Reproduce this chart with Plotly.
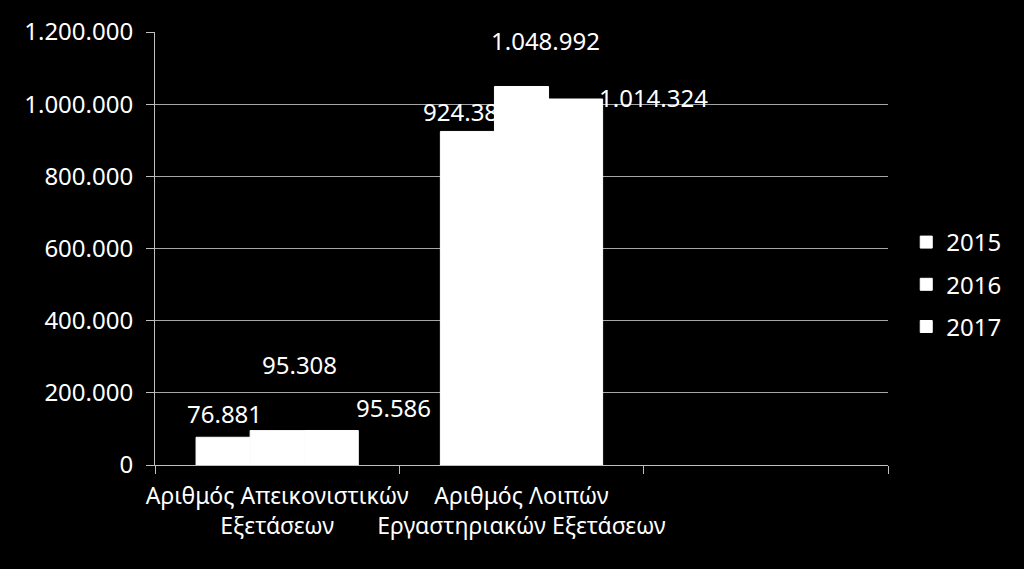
import plotly.graph_objects as go

# categories (third slot is empty in the original chart)
categories = ["Αριθμός Απεικονιστικών<br>Εξετάσεων",
              "Αριθμός Λοιπών<br>Εργαστηριακών Εξετάσεων",
              " "]
years = ["2015", "2016", "2017"]
values_2015 = [76881, 924380]
values_2016 = [95308, 1048992]
values_2017 = [95586, 1014324]
y_ticks = [0, 200000, 400000, 600000, 800000, 1000000, 1200000]

FONT = "Noto Sans"


def fmt(v):
    return f"{v:,}".replace(",", ".")


fig = go.Figure()
series = [values_2015, values_2016, values_2017]
for name, vals in zip(years, series):
    # only the 924.380 label sits behind the neighbouring bar, so it is bar text
    txt = [fmt(v) if (name == "2015" and i == 1) else "" for i, v in enumerate(vals)]
    fig.add_trace(go.Bar(
        name=name, x=categories[:2], y=vals, legendgroup=name,
        marker=dict(color="white", line=dict(width=1, color="white")),
        text=txt, textposition="outside", constraintext="none",
        textfont=dict(color="white", size=24, family=FONT),
        cliponaxis=False,
    ))

# manually placed data labels (offsets in px from the bar top)
label_pos = {
    ("2015", 0): (-53, 24),
    ("2016", 0): (22, 66),
    ("2017", 0): (116, 23),
    ("2016", 1): (24, 46),
    ("2017", 1): (132, 2),
}
for (name, i), (dx, dy) in label_pos.items():
    v = series[years.index(name)][i]
    fig.add_annotation(x=categories[i], y=v, xref="x", yref="y",
                       text=fmt(v), showarrow=False,
                       xshift=dx, yshift=dy,
                       font=dict(color="white", size=24, family=FONT))

fig.update_layout(
    width=1024, height=569,
    paper_bgcolor="black", plot_bgcolor="black",
    barmode="group", bargap=0.336, bargroupgap=0,
    separators=",.",
    margin=dict(l=155, r=136, t=32, b=104),
    font=dict(family=FONT, color="white", size=24),
    legend=dict(xref="container", yref="container", x=0.885, y=0.5,
                xanchor="left", yanchor="middle",
                font=dict(size=24, color="white"),
                itemwidth=30, tracegroupgap=8, bgcolor="rgba(0,0,0,0)"),
    xaxis=dict(categoryorder="array", categoryarray=categories,
               range=[-0.5, 2.5], tickangle=0, automargin=False,
               showline=True, linecolor="#bfbfbf", linewidth=1,
               ticks="outside", tickson="boundaries", ticklen=8,
               tickcolor="#bfbfbf", showgrid=False, ticklabelstandoff=10,
               tickfont=dict(size=23, color="white")),
    yaxis=dict(range=[0, 1200000], tickvals=y_ticks, tickformat=",d",
               automargin=False, ticklabelstandoff=8,
               showline=True, linecolor="#bfbfbf", linewidth=1,
               ticks="outside", ticklen=8, tickcolor="#bfbfbf",
               gridcolor="#a6a6a6", gridwidth=1, zeroline=False,
               tickfont=dict(size=24, color="white")),
)

fig.write_html("out.html", config={"displayModeBar": False},
               post_script="document.body.style.margin='0';"
                           "document.body.style.overflow='hidden';"
                           "document.body.style.background='black';")
